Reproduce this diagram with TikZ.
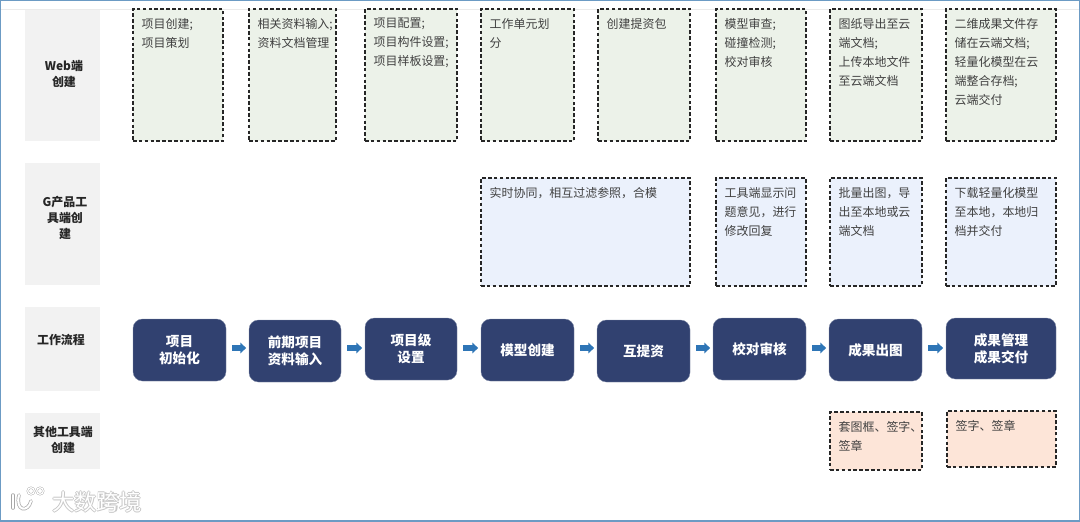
\documentclass[tikz,border=0pt]{standalone}
\usepackage{fontspec}
\setmainfont{Noto Sans CJK SC}
\usetikzlibrary{arrows.meta,fit}

\definecolor{framecol}{HTML}{6C9BC4}
\definecolor{labelcol}{HTML}{F2F2F2}
\definecolor{webcol}{HTML}{ECF2E9}
\definecolor{toolcol}{HTML}{EBF1FC}
\definecolor{othercol}{HTML}{FDE5D8}
\definecolor{flowcol}{HTML}{314170}
\definecolor{arrowcol}{HTML}{2E75B6}
\definecolor{textcol}{HTML}{404040}

\tikzset{
  labelbox/.style={fill=labelcol, inner sep=0pt},
  labeltext/.style={font=\fontsize{10.2}{13.6}\selectfont\bfseries, align=center, text=black!85, inner sep=0pt},
  cellbox/.style={draw=black!85, line width=0.9pt, dash pattern=on 3pt off 2pt, inner sep=0pt},
  webcell/.style={cellbox, fill=webcol},
  toolcell/.style={cellbox, fill=toolcol},
  othercell/.style={cellbox, fill=othercol},
  celltext/.style={anchor=north west, font=\fontsize{10.2}{16.2}\selectfont, align=left, text=textcol, inner sep=0pt, xshift=0.27cm, yshift=-0.28cm},
  flowbox/.style={fill=flowcol, draw=flowcol!60, line width=0.3pt, rounded corners=8pt, inner sep=0pt},
  flowtext/.style={text=white, font=\fontsize{11.6}{14.6}\selectfont\bfseries, align=center, inner sep=0pt},
  flowarrow/.style={-{Triangle[length=5pt,width=9pt]}, arrowcol, line width=4.4pt, shorten <=0.18cm, shorten >=0.08cm},
  marktext/.style={font=\fontsize{19}{19}\selectfont, inner sep=0pt},
}

\begin{document}
\begin{tikzpicture}[x=0.03cm, y=-0.03cm]
  \useasboundingbox (0,0) rectangle (1080,521);
  \draw[framecol, line width=1.6pt] (0,0) rectangle (1080,521);
  \draw[black!8, line width=0.4pt] (1,9) -- (1079,9);

  % row labels
  \node[labelbox, fit={(25,10) (100,141)}] (weblabel) {};
  \node[labelbox, fit={(25,163) (100,285)}] (toollabel) {};
  \node[labelbox, fit={(25,307) (100,391)}] (flowlabel) {};
  \node[labelbox, fit={(25,413) (100,469)}] (otherlabel) {};
  \node[labeltext] (webname) at (64,74) {Web端\\创建};
  \node[labeltext] (toolname) at (65,218) {G产品工\\具端创\\建};
  \node[labeltext] (flowname) at (61,340) {工作流程};
  \node[labeltext] (othername) at (63,440) {其他工具端\\创建};

  % web row
  \node[webcell, fit={(133,9) (223,141)}] (web1) {};
  \node[webcell, fit={(249,9) (336,141)}] (web2) {};
  \node[webcell, fit={(365,9) (457,141)}] (web3) {};
  \node[webcell, fit={(481,9) (574,141)}] (web4) {};
  \node[webcell, fit={(598,9) (690,141)}] (web5) {};
  \node[webcell, fit={(716,9) (806,141)}] (web6) {};
  \node[webcell, fit={(830,9) (922,141)}] (web7) {};
  \node[webcell, fit={(946,9) (1056,141)}] (web8) {};
  \node[celltext] (webtext1) at (web1.north west) {项目创建;\\项目策划};
  \node[celltext] (webtext2) at (web2.north west) {相关资料输入;\\资料文档管理};
  \node[celltext] (webtext3) at (web3.north west) {项目配置;\\项目构件设置;\\项目样板设置;};
  \node[celltext] (webtext4) at (web4.north west) {工作单元划\\分};
  \node[celltext] (webtext5) at (web5.north west) {创建提资包};
  \node[celltext] (webtext6) at (web6.north west) {模型审查;\\碰撞检测;\\校对审核};
  \node[celltext] (webtext7) at (web7.north west) {图纸导出至云\\端文档;\\上传本地文件\\至云端文档};
  \node[celltext] (webtext8) at (web8.north west) {二维成果文件存\\储在云端文档;\\轻量化模型在云\\端整合存档;\\云端交付};

  % tool row
  \node[toolcell, fit={(481,178) (690,286)}] (tool1) {};
  \node[toolcell, fit={(716,178) (806,286)}] (tool2) {};
  \node[toolcell, fit={(830,178) (922,286)}] (tool3) {};
  \node[toolcell, fit={(946,178) (1056,286)}] (tool4) {};
  \node[celltext] (tooltext1) at (tool1.north west) {实时协同，相互过滤参照，合模};
  \node[celltext] (tooltext2) at (tool2.north west) {工具端显示问\\题意见，进行\\修改回复};
  \node[celltext] (tooltext3) at (tool3.north west) {批量出图，导\\出至本地或云\\端文档};
  \node[celltext] (tooltext4) at (tool4.north west) {下载轻量化模型\\至本地，本地归\\档并交付};

  % work flow
  \node[flowbox, fit={(133,319) (226,381)}] (flow1) {};
  \node[flowbox, fit={(249,320) (341,382)}] (flow2) {};
  \node[flowbox, fit={(365,318) (457,380)}] (flow3) {};
  \node[flowbox, fit={(481,319) (574,381)}] (flow4) {};
  \node[flowbox, fit={(597,320) (690,382)}] (flow5) {};
  \node[flowbox, fit={(713,318) (806,380)}] (flow6) {};
  \node[flowbox, fit={(829,319) (922,381)}] (flow7) {};
  \node[flowbox, fit={(946,318) (1056,379)}] (flow8) {};
  \node[flowtext] (flowtext1) at (flow1) {项目\\初始化};
  \node[flowtext] (flowtext2) at (flow2) {前期项目\\资料输入};
  \node[flowtext] (flowtext3) at (flow3) {项目级\\设置};
  \node[flowtext] (flowtext4) at (flow4) {模型创建};
  \node[flowtext] (flowtext5) at (flow5) {互提资};
  \node[flowtext] (flowtext6) at (flow6) {校对审核};
  \node[flowtext] (flowtext7) at (flow7) {成果出图};
  \node[flowtext] (flowtext8) at (flow8) {成果管理\\成果交付};
  \coordinate (arrowline) at (0,348);
  \foreach \a/\b in {1/2,2/3,3/4,4/5,5/6,6/7,7/8}
    \draw[flowarrow] (flow\a.east |- arrowline) -- (flow\b.west |- arrowline);

  % other tools
  \node[othercell, fit={(830,412) (922,470)}] (other1) {};
  \node[othercell, fit={(947,411) (1056,467)}] (other2) {};
  \node[celltext] (othertext1) at (other1.north west) {套图框、签字、\\签章};
  \node[celltext] (othertext2) at (other2.north west) {签字、签章};

  % watermark
  \foreach \markcol/\markwd in {black!35/3pt, white/1.8pt} {
    \draw[\markcol, line width=\markwd, line cap=round] (13,495) -- (13,508);
    \draw[\markcol, line width=\markwd, line cap=round] (19,495) .. controls (15,511) and (28,513) .. (31,501);
    \draw[\markcol, line width=\markwd*0.6] (31,491) circle (0.1cm);
    \draw[\markcol, line width=\markwd*0.6] (40,491) circle (0.1cm);
  }
  \foreach \dx/\dy in {-1/0, 1/0, 0/-1, 0/1}
    \node[marktext, text=black!22] at (97+\dx,502+\dy) {大数跨境};
  \node[marktext, text=white] (marktext) at (97,502) {大数跨境};
\end{tikzpicture}
\end{document}
